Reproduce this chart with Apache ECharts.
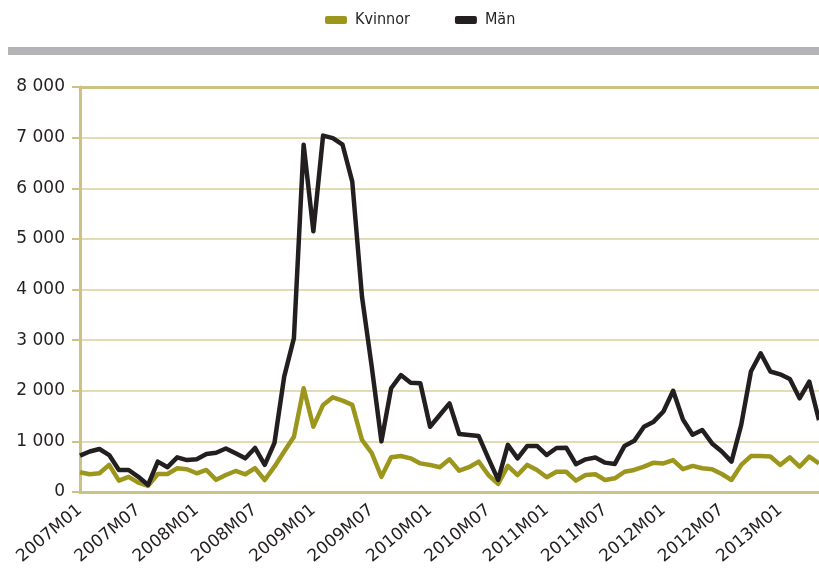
<!DOCTYPE html>
<html>
<head>
<meta charset="utf-8">
<style>
  html, body { margin: 0; padding: 0; background: #ffffff; }
  #chart { width: 819px; height: 569px; }
</style>
<script src="https://cdn.jsdelivr.net/npm/echarts@6/dist/echarts.min.js"></script>
</head>
<body>
<div id="chart"></div>
<script>
// Monthly categories, 2007M01 .. 2013M05
const months = [
  '2007M01','2007M02','2007M03','2007M04','2007M05','2007M06','2007M07','2007M08','2007M09','2007M10','2007M11','2007M12',
  '2008M01','2008M02','2008M03','2008M04','2008M05','2008M06','2008M07','2008M08','2008M09','2008M10','2008M11','2008M12',
  '2009M01','2009M02','2009M03','2009M04','2009M05','2009M06','2009M07','2009M08','2009M09','2009M10','2009M11','2009M12',
  '2010M01','2010M02','2010M03','2010M04','2010M05','2010M06','2010M07','2010M08','2010M09','2010M10','2010M11','2010M12',
  '2011M01','2011M02','2011M03','2011M04','2011M05','2011M06','2011M07','2011M08','2011M09','2011M10','2011M11','2011M12',
  '2012M01','2012M02','2012M03','2012M04','2012M05','2012M06','2012M07','2012M08','2012M09','2012M10','2012M11','2012M12',
  '2013M01','2013M02','2013M03','2013M04','2013M05'
];

const kvinnor = [
  390, 350, 370, 535, 225, 300, 185, 120, 355, 355, 470, 450,
  370, 435, 240, 335, 415, 350, 470, 237, 500, 800, 1090, 2050,
  1290, 1720, 1870, 1805, 1720, 1030, 770, 300, 685, 710, 665, 565,
  535, 490, 645, 420, 490, 600, 335, 160, 515, 335, 535, 435,
  290, 400, 400, 225, 335, 350, 237, 270, 400, 435, 500, 580,
  565, 630, 450, 515, 470, 450, 355, 237, 535, 710, 710, 700,
  535, 685, 500, 700, 565
];

const man = [
  720, 800, 850, 730, 435, 435, 300, 140, 600, 490, 685, 630,
  645, 750, 775, 860, 765, 665, 870, 535, 970, 2280, 3040, 6860,
  5150, 7040, 6990, 6860, 6130, 3860, 2480, 1000, 2050, 2310, 2160, 2150,
  1290, 1520, 1750, 1145, 1125, 1105, 665, 240, 930, 665, 910, 910,
  730, 870, 875, 550, 645, 680, 580, 555, 910, 1010, 1290, 1390,
  1590, 2000, 1435, 1130, 1225, 960, 800, 600, 1325, 2380, 2740, 2380,
  2325, 2230, 1850, 2180, 1420
];

const seriesNames = ['Kvinnor', 'Män'];
const yTicks = { min: 0, max: 8000, step: 1000 };

const GOLD_AXIS = '#cbc283';
const GOLD_GRID = '#d8d09c';
const TEXT = '#231f20';
const numberFont = "'DejaVu Sans', sans-serif";
const legendFont = "'DejaVu Sans Condensed', 'Liberation Sans Narrow', sans-serif";

const chart = echarts.init(document.getElementById('chart'), null, { renderer: 'canvas' });

// thousands separated by a space: 8 000
const fmt = v => String(v).replace(/\B(?=(\d{3})+(?!\d))/g, ' ');

chart.setOption({
  animation: false,
  backgroundColor: '#ffffff',
  graphic: [{
    type: 'rect',
    shape: { x: 8, y: 47, width: 811, height: 8 },
    style: { fill: '#b4b4b6' },
    silent: true
  }],
  legend: {
    left: 325,
    top: 12,
    padding: 0,
    itemWidth: 22,
    itemHeight: 8,
    itemGap: 45,
    icon: 'roundRect',
    textStyle: { fontFamily: legendFont, fontSize: 16, color: TEXT, padding: [0, 0, 0, 3] },
    data: seriesNames
  },
  grid: { left: 80, right: 0, top: 87, bottom: 77, containLabel: false },
  xAxis: [{
    type: 'category',
    data: months,
    boundaryGap: false,
    axisLine: { lineStyle: { color: GOLD_AXIS, width: 3 } },
    axisTick: { show: false },
    axisLabel: {
      interval: 5,
      rotate: 40,
      margin: 16,
      fontFamily: numberFont,
      fontSize: 17,
      color: TEXT
    },
    splitLine: { show: false }
  }, {
    type: 'category',
    data: months,
    position: 'top',
    boundaryGap: false,
    axisLine: { lineStyle: { color: GOLD_AXIS, width: 3 } },
    axisTick: { show: false },
    axisLabel: { show: false },
    splitLine: { show: false }
  }],
  yAxis: {
    type: 'value',
    min: yTicks.min,
    max: yTicks.max,
    interval: yTicks.step,
    axisLine: { show: true, lineStyle: { color: GOLD_AXIS, width: 3 } },
    axisTick: { show: true, length: 8, lineStyle: { color: GOLD_AXIS, width: 2 } },
    axisLabel: {
      margin: 15,
      fontFamily: numberFont,
      fontSize: 17,
      color: TEXT,
      formatter: fmt
    },
    splitLine: { show: true, lineStyle: { color: GOLD_GRID, width: 1.5 } }
  },
  series: [{
    name: seriesNames[0],
    type: 'line',
    data: kvinnor,
    showSymbol: false,
    symbol: 'none',
    lineStyle: { color: '#9c961c', width: 4.5, join: 'round' },
    itemStyle: { color: '#9c961c' },
    z: 2
  }, {
    name: seriesNames[1],
    type: 'line',
    data: man,
    showSymbol: false,
    symbol: 'none',
    lineStyle: { color: '#231f20', width: 4.5, join: 'round' },
    itemStyle: { color: '#231f20' },
    z: 3
  }]
});
</script>
</body>
</html>
